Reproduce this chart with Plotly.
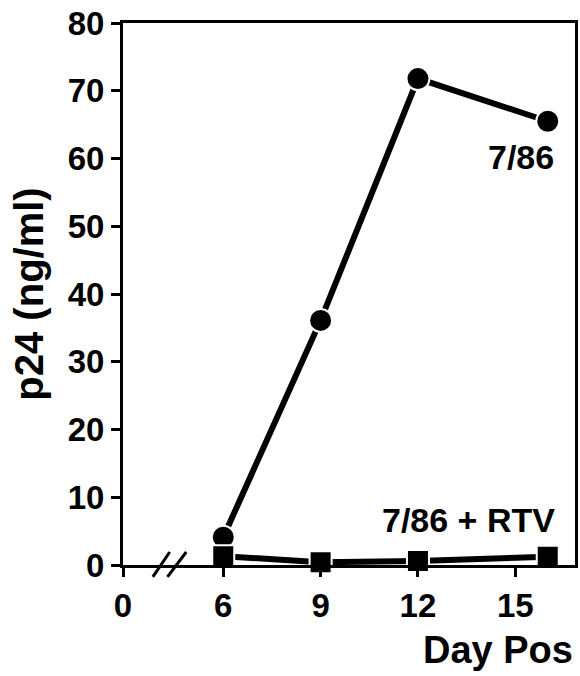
import plotly.graph_objects as go

days = [6, 9, 12, 16]
p24_786 = [4.1, 36.1, 71.8, 65.5]
p24_786_rtv = [1.3, 0.4, 0.6, 1.2]
y_ticks = [0, 10, 20, 30, 40, 50, 60, 70, 80]
x_tickvals = [2.91, 6, 9, 12, 15]
x_ticktext = ["0", "6", "9", "12", "15"]

FONT = "Liberation Sans, Arial, Helvetica, sans-serif"

fig = go.Figure()
fig.add_trace(go.Scatter(
    x=days, y=p24_786, mode="lines+markers",
    line=dict(color="black", width=6),
    marker=dict(symbol="circle", size=23, color="black", line=dict(color="white", width=2)),
    cliponaxis=False, showlegend=False))
fig.add_trace(go.Scatter(
    x=days, y=p24_786_rtv, mode="lines+markers",
    line=dict(color="black", width=6),
    marker=dict(symbol="square", size=22, color="black", line=dict(color="white", width=2)),
    cliponaxis=False, showlegend=False))

fig.update_layout(
    width=580, height=676,
    margin=dict(l=123, r=2, t=23, b=111),
    paper_bgcolor="white", plot_bgcolor="white",
    font=dict(family=FONT, size=33, color="black"),
    xaxis=dict(range=[2.91, 16.84], tickvals=x_tickvals, ticktext=x_ticktext,
               ticks="outside", ticklen=9, tickwidth=3, tickcolor="black",
               showline=True, linecolor="black", linewidth=3, mirror=True,
               showgrid=False, zeroline=False,
               tickfont=dict(family=FONT, size=33, color="black", weight="bold")),
    yaxis=dict(range=[0, 80], tickvals=y_ticks,
               ticks="outside", ticklen=9, tickwidth=3, tickcolor="black",
               showline=True, linecolor="black", linewidth=3, mirror=True,
               showgrid=False, zeroline=False,
               title=dict(text="<b>p24 (ng/ml)</b>", standoff=12,
                          font=dict(family=FONT, size=40, color="black")),
               tickfont=dict(family=FONT, size=33, color="black", weight="bold")),
)

# axis break marks
for x0, x1 in [(3.83, 4.35), (4.28, 4.86)]:
    fig.add_shape(type="line", xref="x", yref="paper", x0=x0, x1=x1, y0=-0.022, y1=0.024,
                  line=dict(color="black", width=3))

fig.add_annotation(x=16.25, y=60.2, xref="x", yref="y", text="<b>7/86</b>",
                   showarrow=False, xanchor="right", yanchor="middle",
                   font=dict(family=FONT, size=34, color="black"))
fig.add_annotation(x=16.3, y=6.6, xref="x", yref="y", text="<b>7/86 + RTV</b>",
                   showarrow=False, xanchor="right", yanchor="middle",
                   font=dict(family=FONT, size=34, color="black"))
fig.add_annotation(x=1.0, y=-0.157, xref="paper", yref="paper", text="<b>Day Pos</b>",
                   showarrow=False, xanchor="right", yanchor="middle",
                   font=dict(family=FONT, size=38, color="black"))

fig.write_html("out.html", config={"displayModeBar": False},
               post_script="document.body.style.margin='0';document.body.style.overflow='hidden';")
